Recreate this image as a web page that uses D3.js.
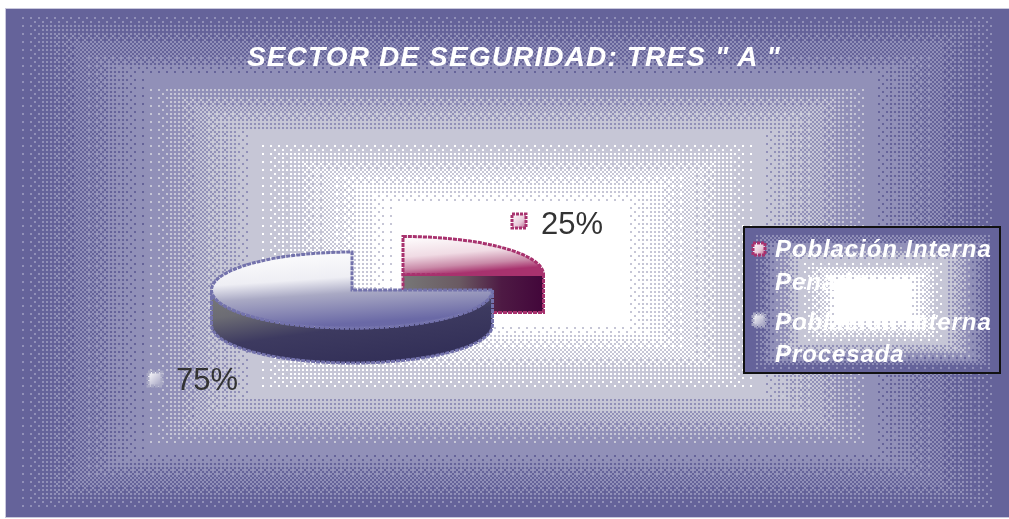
<!DOCTYPE html>
<html><head><meta charset="utf-8">
<script src="https://cdn.jsdelivr.net/npm/d3@7"></script>
<style>
html,body{margin:0;padding:0;background:#fff;overflow:hidden}
#wrap{position:relative;width:1009px;height:519px}
canvas,svg{position:absolute;left:0;top:0}
canvas{filter:blur(.7px)}
text{font-family:"Liberation Sans",Arial,sans-serif}
</style></head><body><div id="wrap"></div>
<script>
const chartTitle = 'SECTOR DE SEGURIDAD: TRES " A "';
const categories = ['Población Interna Penada','Población Interna Procesada'];
const legendLines = [['Población Interna','Penada'],['Población Interna','Procesada']];
const values = [25,75];
const percentLabels = ['25%','75%'];

const W=1009,H=519;
const wrap=d3.select('#wrap');
const canvas=wrap.append('canvas').attr('width',W).attr('height',H).node();
const ctx=canvas.getContext('2d');
ctx.fillStyle='#fff';ctx.fillRect(0,0,W,H);
const bayer=[[0,8,2,10],[12,4,14,6],[3,11,1,9],[15,7,13,5]];
const palette=['#65639a','#9190b8','#c6c6d6','#ffffff'].map(c=>d3.rgb(c));
function gradRect(x0,y0,x1,y1,stops){
  const cx=(x0+x1)/2,cy=(y0+y1)/2,hw=(x1-x0)/2,hh=(y1-y0)/2;
  const lvl=d3.scaleLinear().domain(stops).range([0,1,2,3]).clamp(true);
  for(let y=y0;y<y1;y+=2)for(let x=x0;x<x1;x+=2){
    const t=Math.max(Math.abs(x-cx)/hw,Math.abs(y-cy)/hh);
    const l=lvl(t),b=Math.floor(l),f=l-b;
    const i=Math.floor((x-x0)/2)%4,j=Math.floor((y-y0)/2)%4;
    const c=palette[Math.min(3,f>(bayer[j][i]+.5)/16?b+1:b)];
    ctx.fillStyle=c.formatHex();ctx.fillRect(x,y,2,2);
  }
}
ctx.fillStyle='#c9c8dc';ctx.fillRect(5,8,W-5,510);
gradRect(6,9,1009,517,[0.98,0.72,0.5,0.22]);
gradRect(744,227,1000,373,[0.94,0.76,0.56,0.26]);

const svg=wrap.append('svg').attr('width',W).attr('height',H);
const defs=svg.append('defs');
function lg(id,x1,y1,x2,y2,stops){
  const g=defs.append('linearGradient').attr('id',id).attr('x1',x1).attr('y1',y1).attr('x2',x2).attr('y2',y2);
  stops.forEach(([o,c])=>g.append('stop').attr('offset',o).attr('stop-color',c));
}
lg('blueTop',0,0,.25,1,[[0,'#ffffff'],[.42,'#eeeef4'],[.62,'#a9a9c4'],[1,'#6a69a6']]);
lg('blueWall',0,0,.55,1,[[0,'#7a7a7a'],[.3,'#6c6c74'],[.6,'#3d3a60'],[1,'#333058']]);
lg('redTop',0,0,.3,1,[[0,'#ffffff'],[.5,'#f0dbe4'],[.8,'#c98aa8'],[1,'#a8326e']]);
lg('redWall',0,0,1,0,[[0,'#777777'],[.4,'#6a5a62'],[.7,'#4e1a44'],[1,'#42063a']]);
lg('keyRed',0,0,1,1,[[0,'#ffffff'],[.6,'#e8c8d8'],[1,'#b9668d']]);
lg('keyBlue',0,0,1,1,[[0,'#ffffff'],[1,'#9c9bbd']]);

const pie=d3.pie().sort(null).value(d=>d).startAngle(0).endAngle(2*Math.PI);
const arcs=pie(values);
const rx=140.5,ry=38;
const unitArc=d3.arc().innerRadius(0).outerRadius(1);
const cfg=[
 {cx:403,cy:274.5,d:38,top:'url(#redTop)',wall:'url(#redWall)',stroke:'#a8326e'},
 {cx:352,cy:290,d:35,top:'url(#blueTop)',wall:'url(#blueWall)',stroke:'#7372ac'}
];
const ln=d3.line();
function ell(a){return [rx*Math.sin(a),-ry*Math.cos(a)];}
[0,1].forEach(i=>{
  const a=arcs[i],c=cfg[i];
  const g=svg.append('g').attr('transform',`translate(${c.cx},${c.cy})`);
  const s=Math.max(a.startAngle,Math.PI/2),e=Math.min(a.endAngle,3*Math.PI/2);
  const curve=d3.range(0,41).map(k=>ell(s+(e-s)*k/40));
  const wallPts=curve.concat(curve.slice().reverse().map(p=>[p[0],p[1]+c.d]));
  const dash='4 1';
  if(i===0){
    g.append('path').attr('d',ln([[0,0],[rx,0],[rx,c.d],[0,c.d]])+'Z')
     .attr('fill',c.wall).attr('stroke',c.stroke).attr('stroke-width',3).attr('stroke-dasharray',dash);
  } else {
    g.append('path').attr('d',ln(wallPts)+'Z').attr('fill',c.wall)
     .attr('stroke',c.stroke).attr('stroke-width',3).attr('stroke-dasharray',dash);
  }
  g.append('path').attr('d',unitArc(a)).attr('transform',`scale(${rx},${ry})`)
   .attr('fill',c.top).attr('stroke',c.stroke).attr('stroke-width',3)
   .attr('stroke-dasharray',dash).attr('vector-effect','non-scaling-stroke');
});

svg.append('text').attr('x',514).attr('y',66).attr('text-anchor','middle')
 .attr('font-size',28).attr('letter-spacing',1.15).attr('font-weight','bold').attr('font-style','italic').attr('fill','#fff').text(chartTitle);

const labelPos=[{kx:512,ky:214,x:541,y:234,fill:'url(#keyRed)',st:'#a8326e'},{kx:148,ky:372,x:176,y:390,fill:'url(#keyBlue)',st:'#a8a8c4'}];
labelPos.forEach((p,i)=>{
  svg.append('rect').attr('x',p.kx).attr('y',p.ky).attr('width',14).attr('height',14)
   .attr('fill',p.fill).attr('stroke',p.st).attr('stroke-width',3).attr('stroke-dasharray','3 1');
  svg.append('text').attr('x',p.x).attr('y',p.y).attr('font-size',31).attr('fill','#333').text(percentLabels[i]);
});

svg.append('rect').attr('x',744).attr('y',227).attr('width',256).attr('height',146)
 .attr('fill','none').attr('stroke','#111').attr('stroke-width',2);
const legY=[[257,290],[330,362]];
categories.forEach((c,i)=>{
  svg.append('rect').attr('x',753).attr('y',i?314:243).attr('width',12).attr('height',12)
   .attr('fill',i?'url(#keyBlue)':'url(#keyRed)').attr('stroke',i?'#a8a8c4':'#a8326e')
   .attr('stroke-width',3).attr('stroke-dasharray','3 1');
  legendLines[i].forEach((t,j)=>{
    svg.append('text').attr('x',775).attr('y',legY[i][j]).attr('font-size',24).attr('letter-spacing',.9)
     .attr('font-weight','bold').attr('font-style','italic').attr('fill','#fff').text(t);
  });
});
</script></body></html>
